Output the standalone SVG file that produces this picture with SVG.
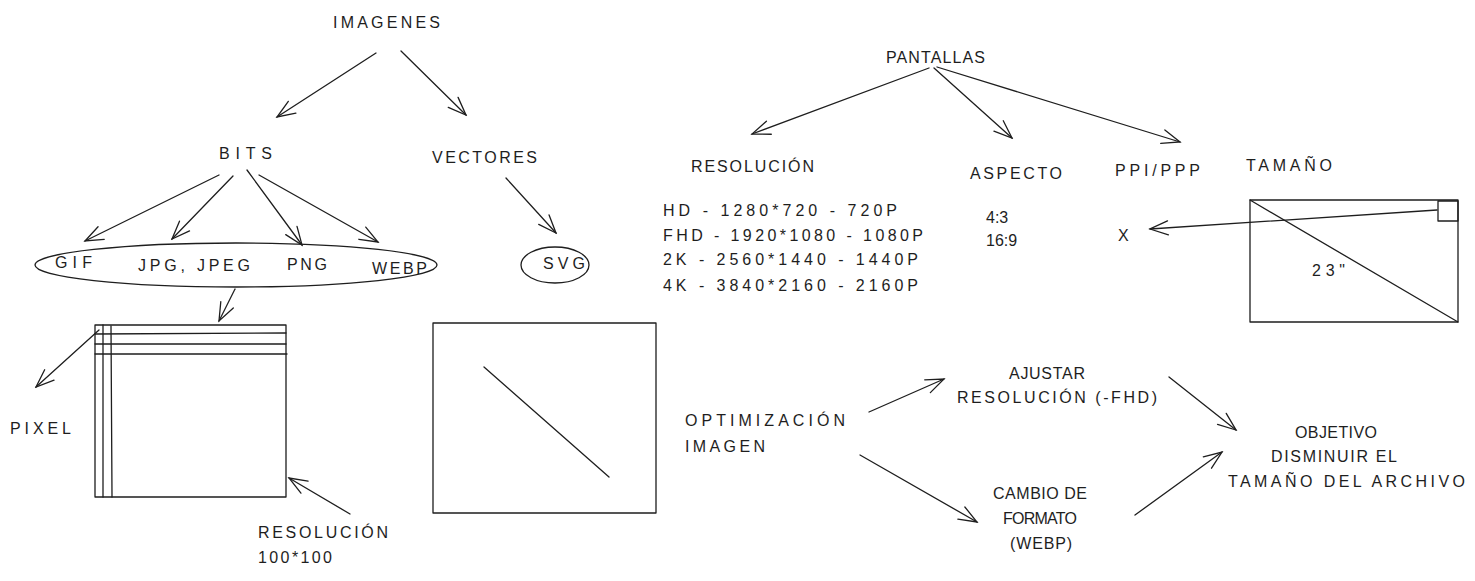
<svg xmlns="http://www.w3.org/2000/svg" width="1475" height="581" viewBox="0 0 1475 581">
<style>
text{font-family:"Liberation Sans","DejaVu Sans",sans-serif;font-size:16px;fill:#1e1e1e;}
.s{fill:none;stroke:#1e1e1e;stroke-width:1.3;stroke-linecap:round;stroke-linejoin:round;}
.a{fill:none;stroke:#1e1e1e;stroke-width:1.3;stroke-linecap:round;marker-end:url(#ah);}
</style>
<defs>
<marker id="ah" viewBox="-20 -10 22 20" refX="0" refY="0" markerWidth="22" markerHeight="20" markerUnits="userSpaceOnUse" orient="auto">
<path d="M-18,-7 L0,0 L-18,7" fill="none" stroke="#1e1e1e" stroke-width="1.3" stroke-linecap="round"/>
</marker>
</defs>
<rect width="1475" height="581" fill="#ffffff"/>

<g id="imagenes"><text x="333" y="28" textLength="107">IMAGENES</text></g>
<g id="bits"><text x="219" y="159" textLength="53">BITS</text></g>
<g id="vectores"><text x="432" y="163" textLength="105">VECTORES</text></g>
<g id="formatos">
<ellipse class="s" cx="236" cy="265" rx="201" ry="22"/>
<text x="55" y="268" textLength="37">GIF</text>
<text x="138" y="271" textLength="112">JPG, JPEG</text>
<text x="287" y="270" textLength="40">PNG</text>
<text x="372" y="274" textLength="55">WEBP</text>
</g>
<g id="svg"><ellipse class="s" cx="555" cy="265" rx="34" ry="18"/><text x="543" y="269" textLength="42">SVG</text></g>
<g id="pixelbox">
<rect class="s" x="95" y="325" width="191" height="172"/>
<line class="s" x1="103" y1="325" x2="103" y2="497"/>
<line class="s" x1="111" y1="326" x2="112" y2="497"/>
<line class="s" x1="95" y1="334" x2="286" y2="333"/>
<line class="s" x1="95" y1="344" x2="286" y2="344"/>
<line class="s" x1="95" y1="354" x2="287" y2="354"/>
</g>
<g id="pixel"><text x="10" y="434" textLength="61">PIXEL</text></g>
<g id="resolucion100"><text x="258" y="538" textLength="130">RESOLUCIÓN</text><text x="258" y="563" textLength="74">100*100</text></g>
<g id="vectorbox">
<rect class="s" x="433" y="323" width="223" height="190"/>
<line class="s" x1="484" y1="367" x2="609" y2="477"/>
</g>
<g id="pantallas"><text x="886" y="63" textLength="99">PANTALLAS</text></g>
<g id="resolucion"><text x="691" y="172" textLength="123">RESOLUCIÓN</text></g>
<g id="resolist">
<text x="663" y="216" textLength="234">HD - 1280*720 - 720P</text>
<text x="663" y="241" textLength="260">FHD - 1920*1080 - 1080P</text>
<text x="663" y="265" textLength="255">2K - 2560*1440 - 1440P</text>
<text x="663" y="291" textLength="255">4K - 3840*2160 - 2160P</text>
</g>
<g id="aspecto"><text x="970" y="179" textLength="92">ASPECTO</text></g>
<g id="ratios"><text x="986" y="223">4:3</text><text x="986" y="246">16:9</text></g>
<g id="ppi"><text x="1115" y="176" textLength="85">PPI/PPP</text></g>
<g id="x"><text x="1118" y="241">X</text></g>
<g id="tamano"><text x="1246" y="171" textLength="86">TAMAÑO</text></g>
<g id="screen">
<rect class="s" x="1250" y="200" width="208" height="122"/>
<line class="s" x1="1250" y1="200" x2="1458" y2="322"/>
<rect class="s" x="1438" y="201" width="20" height="20"/>
<text x="1312" y="276" textLength="33">23"</text>
</g>
<g id="optimizacion"><text x="685" y="426" textLength="160">OPTIMIZACIÓN</text><text x="685" y="452" textLength="80">IMAGEN</text></g>
<g id="ajustar"><text x="1009" y="379" textLength="76">AJUSTAR</text><text x="957" y="403" textLength="200">RESOLUCIÓN (-FHD)</text></g>
<g id="cambio"><text x="993" y="499" textLength="94">CAMBIO DE</text><text x="1003" y="524" textLength="74">FORMATO</text><text x="1010" y="549" textLength="62">(WEBP)</text></g>
<g id="objetivo"><text x="1295" y="438" textLength="82">OBJETIVO</text><text x="1271" y="462" textLength="126">DISMINUIR EL</text><text x="1228" y="487" textLength="237">TAMAÑO DEL ARCHIVO</text></g>

<g id="connectors">
<line class="a" x1="376" y1="53" x2="277" y2="117"/>
<line class="a" x1="401" y1="51" x2="466" y2="115"/>
<line class="a" x1="219" y1="175" x2="85" y2="241"/>
<line class="a" x1="233" y1="176" x2="172" y2="239"/>
<line class="a" x1="247" y1="170" x2="302" y2="245"/>
<line class="a" x1="259" y1="175" x2="378" y2="242"/>
<line class="a" x1="506" y1="178" x2="556" y2="233"/>
<line class="a" x1="235" y1="289" x2="219" y2="321"/>
<line class="a" x1="99" y1="330" x2="36" y2="387"/>
<line class="a" x1="350" y1="514" x2="289" y2="478"/>
<line class="a" x1="929" y1="68" x2="752" y2="134"/>
<line class="a" x1="934" y1="68" x2="1012" y2="138"/>
<line class="a" x1="937" y1="67" x2="1180" y2="142"/>
<line class="a" x1="1437" y1="210" x2="1150" y2="229"/>
<line class="a" x1="869" y1="412" x2="944" y2="379"/>
<line class="a" x1="860" y1="455" x2="977" y2="522"/>
<line class="a" x1="1169" y1="377" x2="1236" y2="430"/>
<line class="a" x1="1135" y1="515" x2="1222" y2="452"/>
</g>
</svg>
